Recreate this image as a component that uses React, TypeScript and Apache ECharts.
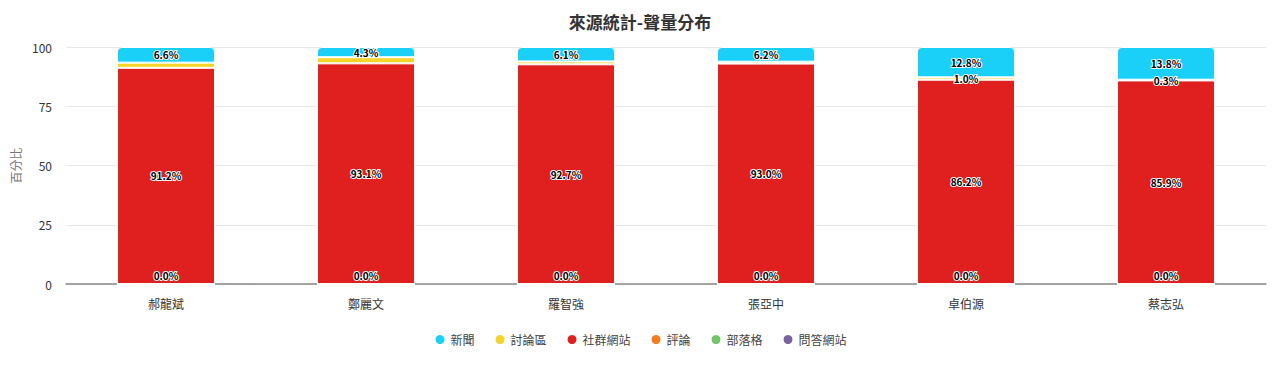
import React, { useEffect, useRef } from "react";
import * as echarts from "echarts";

const categories = ["郝龍斌", "鄭麗文", "羅智強", "張亞中", "卓伯源", "蔡志弘"];
const legendNames = ["新聞", "討論區", "社群網站", "評論", "部落格", "問答網站"];
const newsValues = [6.6, 4.3, 6.1, 6.2, 12.8, 13.8];
const forumValues = [2.2, 2.6, 1.2, 0.8, 1.0, 0.3];
const socialValues = [91.2, 93.1, 92.7, 93.0, 86.2, 85.9];
const commentValues = [0, 0, 0, 0, 0, 0];
const blogValues = [0, 0, 0, 0, 0, 0];
const qaValues = [0, 0, 0, 0, 0, 0];
const yTicks = [0, 25, 50, 75, 100];

const colors: Record<string, string> = {
  新聞: "#1ad0f8",
  討論區: "#f7d42a",
  社群網站: "#e0201f",
  評論: "#f97a1c",
  部落格: "#74c46c",
  問答網站: "#7b62a0",
};

const FONT = "'Noto Sans CJK TC', 'Noto Sans', sans-serif";

const labelStyle = {
  color: "#000",
  fontSize: 10,
  fontWeight: "bold" as const,
  fontFamily: FONT,
  textBorderColor: "#fff",
  textBorderWidth: 2,
  formatter: (p: any) => `${Number(p.value).toFixed(1)}%`,
};

export default function App() {
  const ref = useRef<HTMLDivElement>(null);
  useEffect(() => {
    if (!ref.current) return;
    const chart = echarts.init(ref.current, undefined, { renderer: "svg" });

    const mk = (name: string, values: number[], label: any, radius?: number[]) => ({
      name,
      type: "bar",
      stack: "total",
      barWidth: "49%",
      data: values.map((v) => ({ value: v })),
      itemStyle: {
        color: colors[name],
        borderColor: "#fff",
        borderWidth: 1,
        borderRadius: radius || 0,
      },
      label,
      emphasis: { disabled: true },
    });

    const forumData = forumValues.map((v, i) => ({
      value: v,
      label: { show: newsValues[i] > 10 },
    }));

    const series: any[] = [
      mk("評論", commentValues, { show: true, position: "insideBottom", distance: 4, ...labelStyle }),
      mk("部落格", blogValues, { show: false }),
      mk("問答網站", qaValues, { show: false }),
      mk("社群網站", socialValues, { show: true, position: "inside", ...labelStyle }),
      { ...mk("討論區", forumValues, { show: true, position: "inside", ...labelStyle }), data: forumData },
      mk("新聞", newsValues, { show: true, position: "inside", ...labelStyle }, [4, 4, 0, 0]),
    ];

    chart.setOption({
      animation: false,
      title: {
        text: "來源統計-聲量分布",
        left: "center",
        top: 0,
        textStyle: { fontSize: 17, fontWeight: "bold", color: "#333", fontFamily: FONT },
      },
      legend: {
        data: legendNames,
        bottom: 7,
        icon: "circle",
        itemWidth: 11,
        itemHeight: 11,
        itemGap: 19,
        textStyle: { fontSize: 12, color: "#444", fontFamily: FONT },
      },
      grid: { left: 58, right: 6, top: 39, bottom: 74, containLabel: false, outerBoundsMode: "none" },
      xAxis: {
        type: "category",
        data: categories,
        axisLine: { lineStyle: { color: "#888", width: 1.5 } },
        axisTick: { show: false },
        axisLabel: { color: "#333", fontSize: 12, margin: 13, fontFamily: FONT },
      },
      yAxis: {
        type: "value",
        min: yTicks[0],
        max: yTicks[yTicks.length - 1],
        interval: 25,
        name: "百分比",
        nameLocation: "middle",
        nameGap: 34,
        nameRotate: 90,
        nameTextStyle: { color: "#777", fontSize: 12, fontFamily: FONT },
        axisLabel: { color: "#333", fontSize: 12, margin: 14, fontFamily: FONT },
        splitLine: { lineStyle: { color: "#e8e8e8" } },
        axisLine: { show: false },
      },
      series,
    });
    return () => chart.dispose();
  }, []);

  return <div ref={ref} style={{ width: 1264, height: 350 }} />;
}
